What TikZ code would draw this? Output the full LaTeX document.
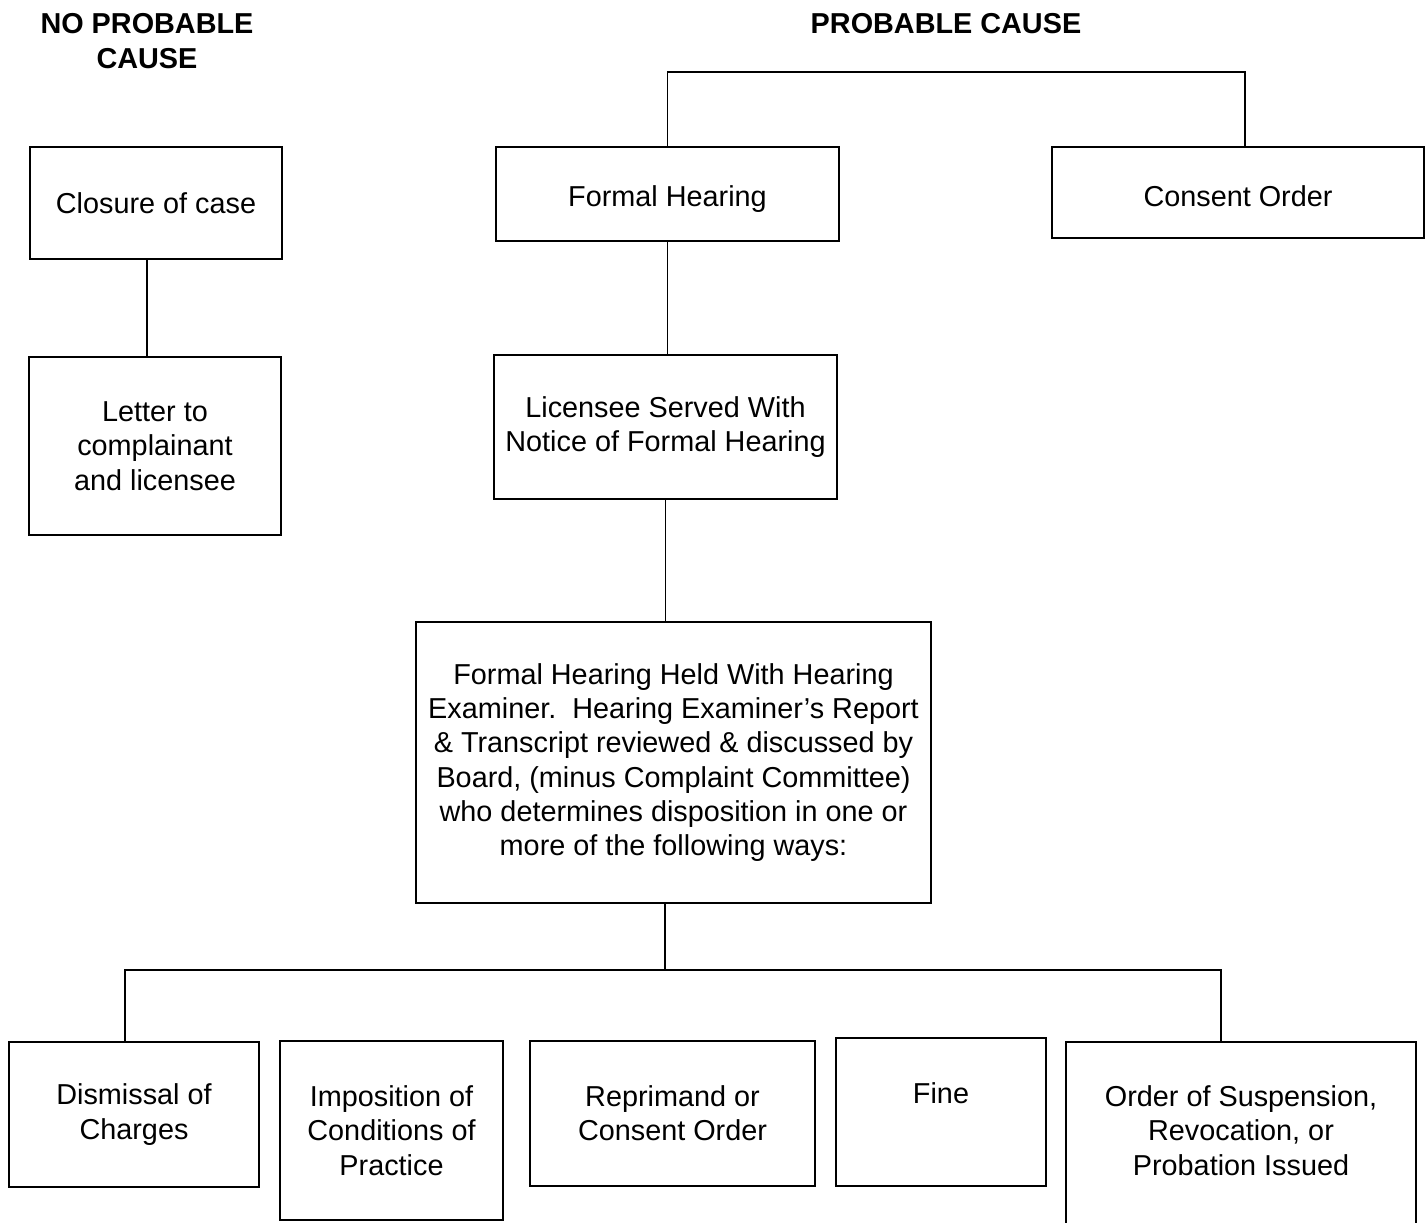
\documentclass[tikz,border=0pt]{standalone}
\usepackage{fontspec}
\setmainfont{Liberation Sans}
\usepackage{tikz}
\usetikzlibrary{positioning,calc}

\tikzset{
  box/.style={draw=black, line width=1.2pt, align=center, inner sep=0pt,
    font=\fontsize{16.4}{19.5}\selectfont},
  head/.style={align=center, font=\fontsize{16.4}{19.5}\selectfont\bfseries},
  link/.style={draw=black, line width=1pt}
}

\begin{document}
\begin{tikzpicture}[x=0.02cm, y=-0.02cm]
      \useasboundingbox (0,0) rectangle (1427,1223);
      % headings
      \node[head] (noprob) at (147,41) {NO PROBABLE\\CAUSE};
      \node[head] (prob) at (946,24) {PROBABLE CAUSE};
      % no probable cause branch
      \node[box, minimum width=5.04cm, minimum height=2.24cm] (closure) at (156,203) {Closure of case};
      \node[box, minimum width=5.04cm, minimum height=3.56cm] (letter) at (155,446) {Letter to\\complainant\\and licensee};
      % probable cause branch
      \node[box, minimum width=6.86cm, text height=1.18cm, text depth=0.7cm, anchor=north] (formal) at (667.5,146) {Formal Hearing};
      \node[box, minimum width=7.44cm, text height=1.18cm, text depth=0.64cm, anchor=north] (consent) at (1238,146) {Consent Order};
      \node[box, minimum width=6.86cm, minimum height=2.88cm] (served) at (665.5,427) {Licensee Served With\\Notice of Formal Hearing};
      \node[box, minimum width=10.3cm, minimum height=5.62cm] (held) at (673.5,762.5)
        {Formal Hearing Held With Hearing\\Examiner.\ \ Hearing Examiner's Report\\\& Transcript reviewed \& discussed by\\Board, (minus Complaint Committee)\\who determines disposition in one or\\more of the following ways:};
      % outcomes
      \node[box, minimum width=5cm, minimum height=2.9cm] (dismissal) at (134,1114.5) {Dismissal of\\Charges};
      \node[box, minimum width=4.46cm, minimum height=3.58cm] (imposition) at (391.5,1130.5) {Imposition of\\Conditions of\\Practice};
      \node[box, minimum width=5.7cm, minimum height=2.9cm] (reprimand) at (672.5,1113.5) {Reprimand or\\Consent Order};
      \node[box, minimum width=4.2cm, text height=1.3cm, text depth=1.66cm, anchor=north] (fine) at (941,1037) {Fine};
      \node[box, minimum width=7cm, text height=2.66cm, text depth=1.72cm, anchor=north] (order) at (1241,1041) {Order of Suspension,\\Revocation, or\\Probation Issued};
      % connectors
      \coordinate (cobar) at (1245,72);
      \coordinate (outbar) at (665,970);
      \coordinate (cltop) at ($(closure.south)+(-9,0)$);
      \draw[link] (cltop) -- (cltop |- letter.north);
      \draw[link] (formal.north) |- (cobar) -- (cobar |- consent.north);
      \draw[link] (formal.south) -- (formal.south |- served.north);
      \draw[link] (served.south) -- (served.south |- held.north);
      \draw[link] (held.south -| outbar) -- (outbar);
      \draw[link] ($(dismissal.north)+(-9,0)$) |- (outbar) -| ($(order.north)+(-20,0)$);
    \end{tikzpicture}
\end{document}
